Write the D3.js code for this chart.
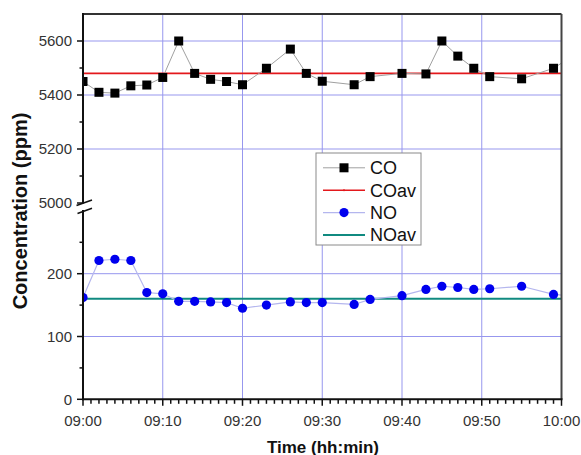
<!DOCTYPE html>
<html>
<head>
<meta charset="utf-8">
<script src="https://cdn.jsdelivr.net/npm/d3@7"></script>
<style>
  html, body { margin: 0; padding: 0; background: #fff; }
  svg { display: block; font-family: "Liberation Sans", Arial, sans-serif; }
</style>
</head>
<body>
<svg id="chart" width="581" height="455"></svg>
<script>
// ---------------- data ----------------
const times = ["09:00","09:02","09:04","09:06","09:08","09:10","09:12","09:14","09:16","09:18","09:20","09:23","09:26","09:28","09:30","09:34","09:36","09:40","09:43","09:45","09:47","09:49","09:51","09:55","09:59","10:01"];
const coValues = [5450,5410,5407,5434,5437,5465,5600,5480,5458,5450,5438,5499,5570,5480,5451,5438,5468,5480,5478,5600,5544,5499,5468,5460,5499,5537];
const noValues = [162,221,223,221,170,168,156,156,155,154,145,150,155,154,154,151,159,165,175,180,178,175,176,180,167,165];
const coAverage = 5480;
const noAverage = 160;
const xTickLabels = ["09:00","09:10","09:20","09:30","09:40","09:50","10:00"];
const upperTicks = [5000,5200,5400,5600];
const upperMinor = [5100,5300,5500];
const lowerTicks = [0,100,200];
const lowerMinor = [50,150,250];
const legendItems = ["CO","COav","NO","NOav"];

// ---------------- layout ----------------
const parse = d3.timeParse("%H:%M");
const L = 83, R = 561.5, T = 14, B = 399.3;
const upTop = T, upBot = 203, loTop = 210.9, loBot = B;

const x = d3.scaleTime().domain([parse("09:00"), parse("10:00")]).range([L, R]);
const yU = d3.scaleLinear().domain([5000, 5700]).range([upBot, upTop]);
const yL = d3.scaleLinear().domain([0, 300]).range([loBot, loTop]);

const svg = d3.select("#chart");
const gridColor = "#9797ee";

svg.append("defs").append("clipPath").attr("id","clip")
  .append("rect").attr("x", L).attr("y", T).attr("width", R - L).attr("height", B - T);

// grid
const grid = svg.append("g");
const vTicks = xTickLabels.map(parse).slice(1, -1);
grid.selectAll("line.v").data(vTicks).enter().append("line")
  .attr("x1", d => x(d)).attr("x2", d => x(d)).attr("y1", T).attr("y2", B)
  .attr("stroke", gridColor).attr("stroke-width", 1);
grid.selectAll("line.hu").data(upperTicks.slice(1)).enter().append("line")
  .attr("x1", L).attr("x2", R).attr("y1", d => yU(d)).attr("y2", d => yU(d))
  .attr("stroke", gridColor).attr("stroke-width", 1);
grid.selectAll("line.hl").data(lowerTicks.slice(1)).enter().append("line")
  .attr("x1", L).attr("x2", R).attr("y1", d => yL(d)).attr("y2", d => yL(d))
  .attr("stroke", gridColor).attr("stroke-width", 1);

// data
const plot = svg.append("g").attr("clip-path", "url(#clip)");
const coData = times.map((t, i) => ({ t: parse(t), v: coValues[i] }));
const noData = times.map((t, i) => ({ t: parse(t), v: noValues[i] }));

plot.append("line").attr("x1", L).attr("x2", R)
  .attr("y1", yU(coAverage)).attr("y2", yU(coAverage))
  .attr("stroke", "#e3181c").attr("stroke-width", 1.6);
plot.append("line").attr("x1", L).attr("x2", R)
  .attr("y1", yL(noAverage)).attr("y2", yL(noAverage))
  .attr("stroke", "#108a80").attr("stroke-width", 2);

plot.append("path").datum(coData)
  .attr("d", d3.line().x(d => x(d.t)).y(d => yU(d.v)))
  .attr("fill", "none").attr("stroke", "#a0a0a0").attr("stroke-width", 1);
plot.append("path").datum(noData)
  .attr("d", d3.line().x(d => x(d.t)).y(d => yL(d.v)))
  .attr("fill", "none").attr("stroke", "#b4b6ee").attr("stroke-width", 1.2);

const sq = 9;
plot.selectAll("rect.co").data(coData).enter().append("rect")
  .attr("x", d => x(d.t) - sq / 2).attr("y", d => yU(d.v) - sq / 2)
  .attr("width", sq).attr("height", sq).attr("fill", "#000");
plot.selectAll("circle.no").data(noData).enter().append("circle")
  .attr("cx", d => x(d.t)).attr("cy", d => yL(d.v)).attr("r", 4.6)
  .attr("fill", "#0000ee");

// frame
const axisColor = "#111";
svg.append("line").attr("x1", L).attr("x2", R).attr("y1", T).attr("y2", T)
  .attr("stroke", "#333").attr("stroke-width", 2);
svg.append("line").attr("x1", R).attr("x2", R).attr("y1", T).attr("y2", B)
  .attr("stroke", "#444").attr("stroke-width", 2);

// left axis (with break)
svg.append("line").attr("x1", L).attr("x2", L).attr("y1", T - 1).attr("y2", upBot + 0.5)
  .attr("stroke", axisColor).attr("stroke-width", 2);
svg.append("line").attr("x1", L).attr("x2", L).attr("y1", loTop - 1).attr("y2", B + 1)
  .attr("stroke", axisColor).attr("stroke-width", 2);
svg.append("line").attr("x1", 76.5).attr("y1", 205.5).attr("x2", 92).attr("y2", 200)
  .attr("stroke", axisColor).attr("stroke-width", 1.6);
svg.append("line").attr("x1", 77.5).attr("y1", 213.5).attr("x2", 92).attr("y2", 208.3)
  .attr("stroke", axisColor).attr("stroke-width", 1.6);

// bottom axis
svg.append("line").attr("x1", L - 1).attr("x2", R + 1).attr("y1", B).attr("y2", B)
  .attr("stroke", axisColor).attr("stroke-width", 2);

// y ticks
const yt = svg.append("g");
yt.selectAll("line.um").data(upperTicks).enter().append("line")
  .attr("x1", L - 6).attr("x2", L).attr("y1", d => yU(d)).attr("y2", d => yU(d))
  .attr("stroke", axisColor).attr("stroke-width", 1.5);
yt.selectAll("line.un").data(upperMinor).enter().append("line")
  .attr("x1", L - 3.5).attr("x2", L).attr("y1", d => yU(d)).attr("y2", d => yU(d))
  .attr("stroke", axisColor).attr("stroke-width", 1.5);
yt.selectAll("line.lm").data(lowerTicks).enter().append("line")
  .attr("x1", L - 6).attr("x2", L).attr("y1", d => yL(d)).attr("y2", d => yL(d))
  .attr("stroke", axisColor).attr("stroke-width", 1.5);
yt.selectAll("line.ln").data(lowerMinor).enter().append("line")
  .attr("x1", L - 3.5).attr("x2", L).attr("y1", d => yL(d)).attr("y2", d => yL(d))
  .attr("stroke", axisColor).attr("stroke-width", 1.5);

const labColor = "#333";
yt.selectAll("text.u").data(upperTicks).enter().append("text")
  .attr("x", 72).attr("y", d => yU(d)).attr("dy", "0.36em")
  .attr("text-anchor", "end").attr("font-size", 15).attr("fill", labColor)
  .text(d => d);
yt.selectAll("text.l").data(lowerTicks).enter().append("text")
  .attr("x", 72).attr("y", d => yL(d)).attr("dy", "0.36em")
  .attr("text-anchor", "end").attr("font-size", 15).attr("fill", labColor)
  .text(d => d);

// x ticks
const xt = svg.append("g");
const minorX = d3.timeMinute.range(parse("09:00"), d3.timeMinute.offset(parse("10:00"), 1));
xt.selectAll("line.xm").data(minorX).enter().append("line")
  .attr("x1", d => x(d)).attr("x2", d => x(d))
  .attr("y1", B).attr("y2", d => B + (d.getMinutes() % 10 === 0 ? 6.5 : 4.5))
  .attr("stroke", axisColor).attr("stroke-width", 1.5);
xt.selectAll("text").data(xTickLabels).enter().append("text")
  .attr("x", d => x(parse(d))).attr("y", 425.5)
  .attr("text-anchor", "middle").attr("font-size", 15).attr("fill", labColor)
  .text(d => d);

// axis titles
svg.append("text").attr("x", 323).attr("y", 452.5).attr("text-anchor", "middle")
  .attr("font-size", 17).attr("font-weight", "bold").attr("fill", "#111")
  .text("Time (hh:min)");
svg.append("text").attr("transform", "translate(27,211) rotate(-90)")
  .attr("text-anchor", "middle").attr("font-size", 20).attr("font-weight", "bold").attr("fill", "#111")
  .text("Concentration (ppm)");

// legend
const lg = svg.append("g");
lg.append("rect").attr("x", 316).attr("y", 153).attr("width", 105).attr("height", 92)
  .attr("fill", "#fff").attr("stroke", "#8a8a8a").attr("stroke-width", 1);
const lgStroke = { CO: "#a0a0a0", COav: "#e3181c", NO: "#b4b6ee", NOav: "#108a80" };
const lgWidth = { CO: 1, COav: 1.6, NO: 1.2, NOav: 2 };
legendItems.forEach((name, i) => {
  const cy = 167.8 + i * 22.4;
  lg.append("line").attr("x1", 323).attr("x2", 365).attr("y1", cy).attr("y2", cy)
    .attr("stroke", lgStroke[name]).attr("stroke-width", lgWidth[name]);
  if (name === "CO") {
    lg.append("rect").attr("x", 344 - sq / 2).attr("y", cy - sq / 2).attr("width", sq).attr("height", sq).attr("fill", "#000");
  } else if (name === "NO") {
    lg.append("circle").attr("cx", 344).attr("cy", cy).attr("r", 4.6).attr("fill", "#0000ee");
  } else {
    lg.append("circle").attr("cx", 344).attr("cy", cy).attr("r", 1).attr("fill", lgStroke[name]);
  }
  lg.append("text").attr("x", 370).attr("y", cy).attr("dy", "0.36em")
    .attr("font-size", 18).attr("fill", "#111").text(name);
});
</script>
</body>
</html>
